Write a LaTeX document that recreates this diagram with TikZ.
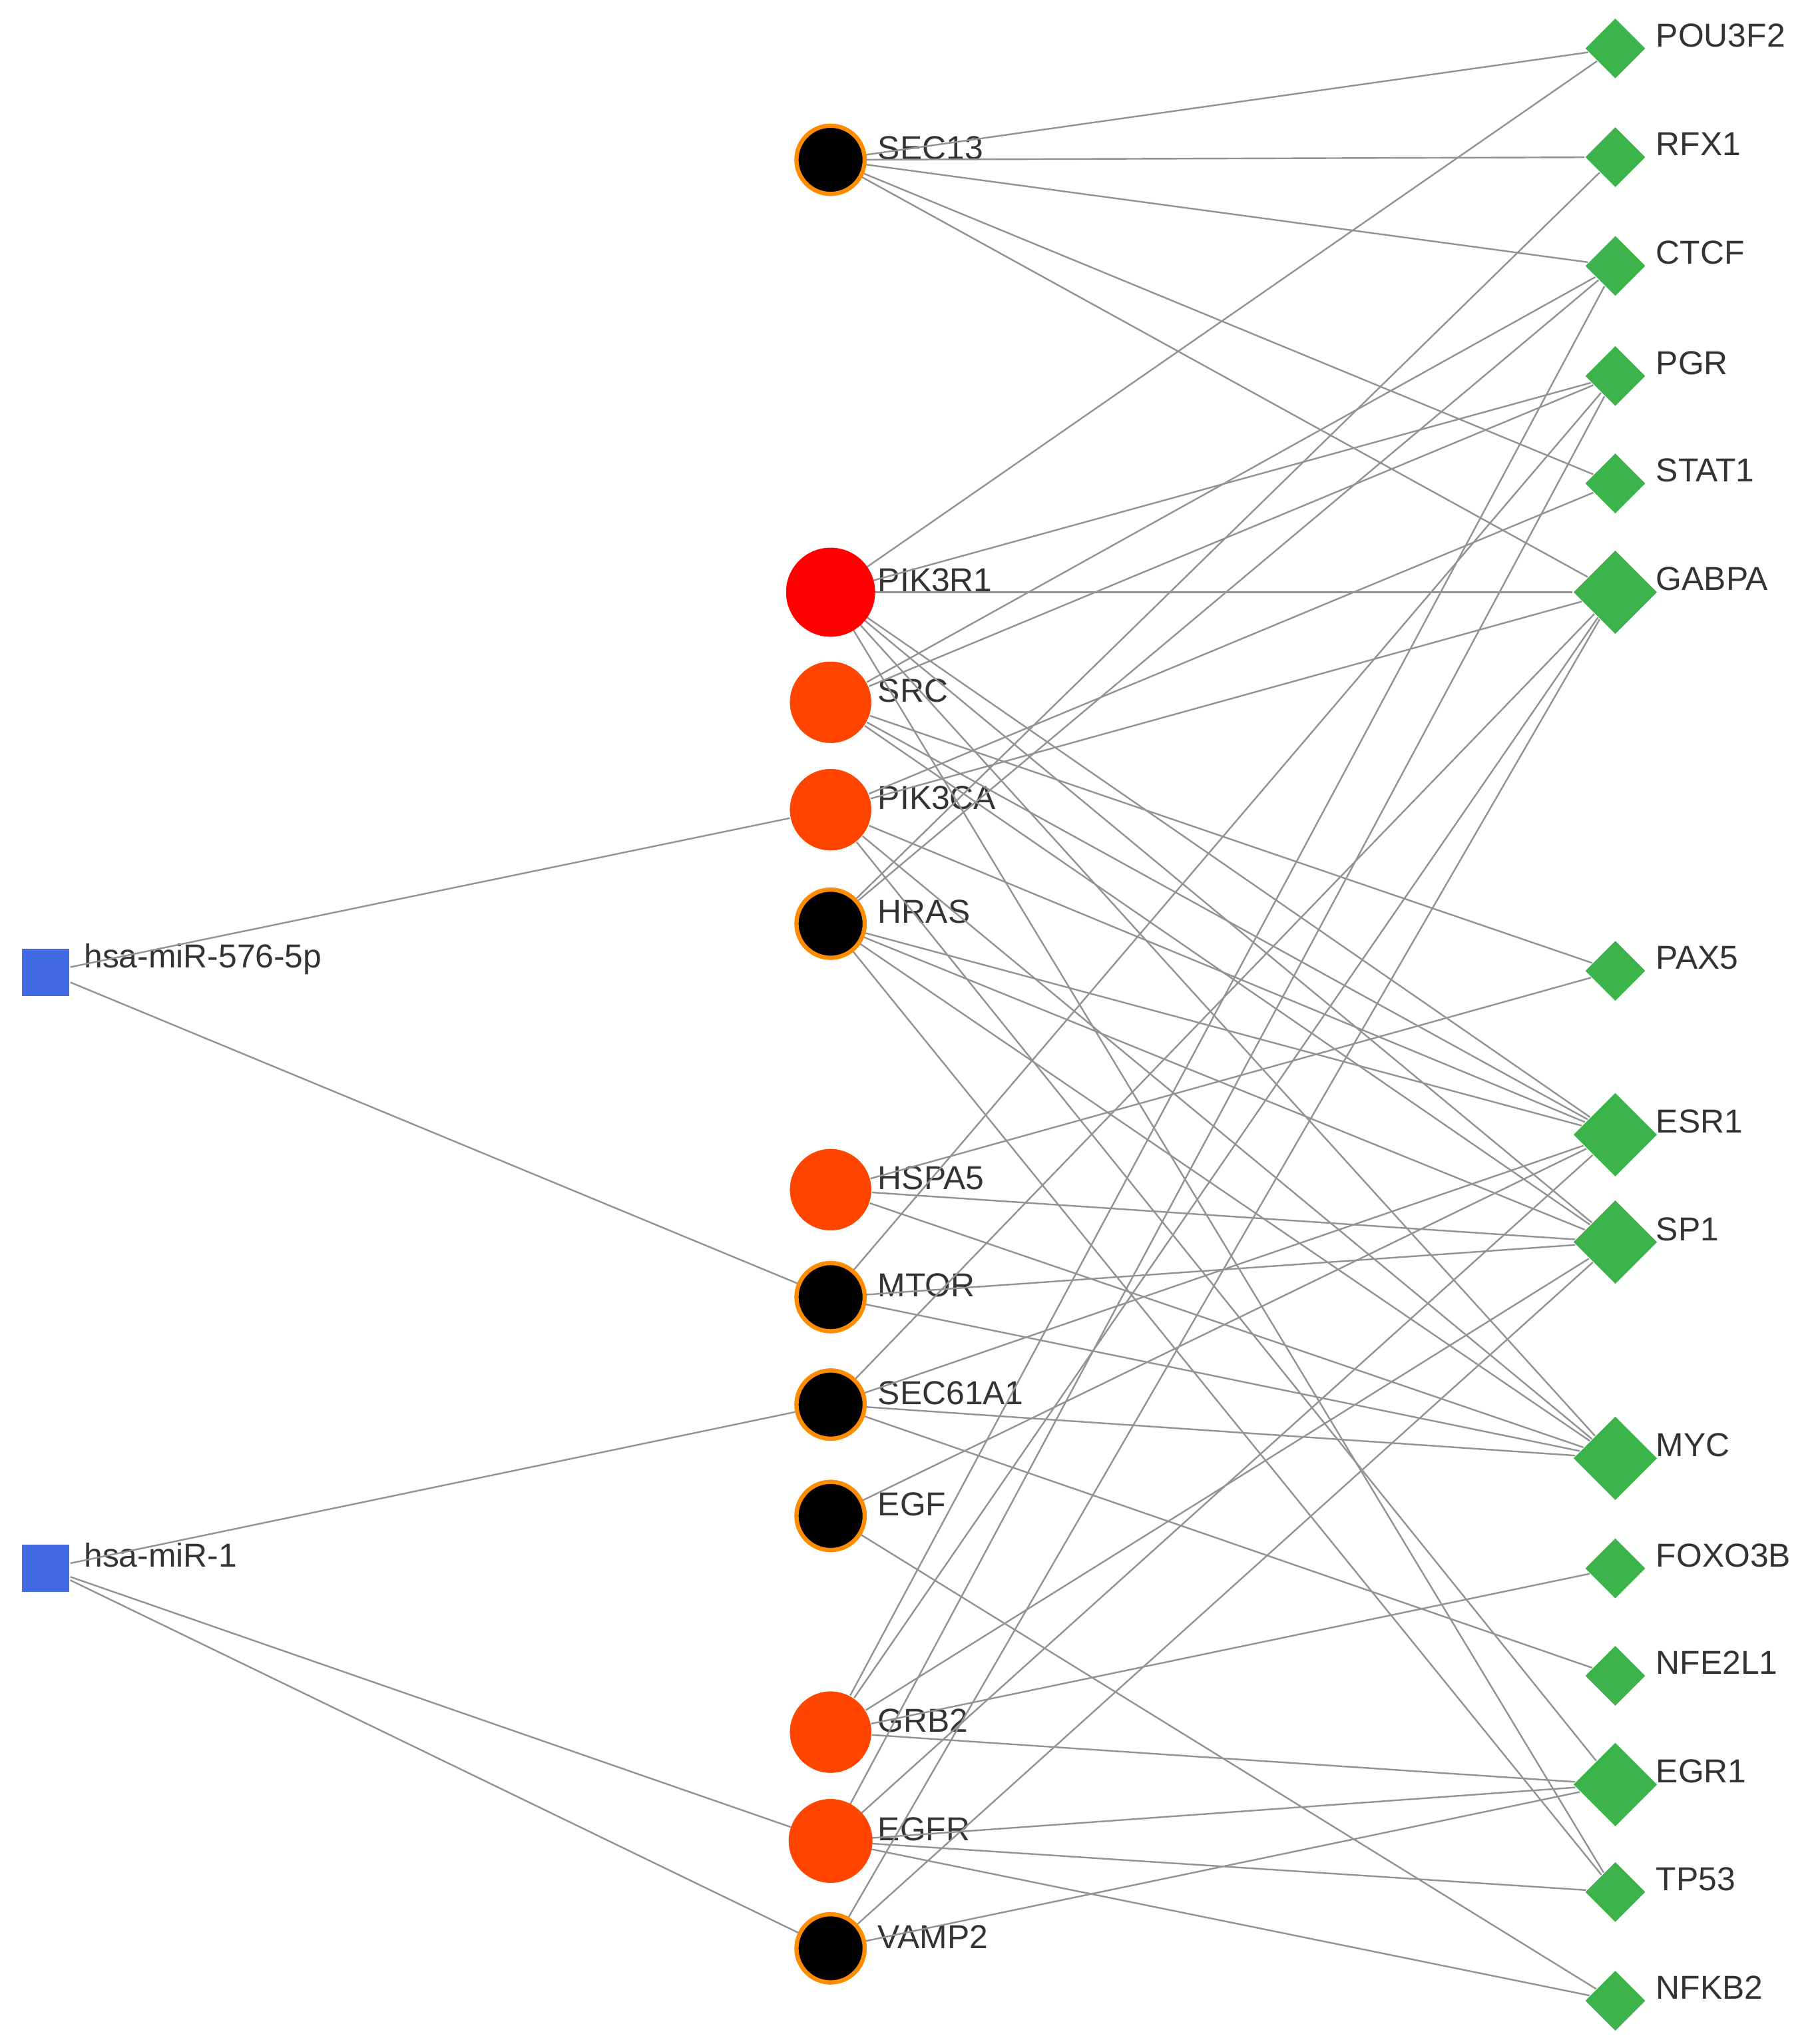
\documentclass[tikz,border=0pt]{standalone}
\usepackage{fontspec}
\setmainfont{Liberation Sans}
\usetikzlibrary{shapes.geometric}
\definecolor{mirblue}{HTML}{4169E1}
\definecolor{hubred}{HTML}{FF0000}
\definecolor{hubora}{HTML}{FF4500}
\definecolor{ringora}{HTML}{FF8C00}
\definecolor{tfgreen}{HTML}{3CB44B}
\tikzset{
	mir/.style={draw=none,rectangle,fill=mirblue,minimum size=0.36cm,inner sep=0pt},
	gene/.style={circle,draw=none,fill=hubora,inner sep=0pt,minimum size=0.62cm},
	small/.style={gene,fill=black,draw=ringora,line width=0.9pt,minimum size=0.52cm},
	tf/.style={diamond,fill=tfgreen,inner sep=0pt,minimum size=0.46cm},
	big/.style={tf,minimum size=0.64cm},
	lab/.style={anchor=west,font=\fontsize{7.2}{8}\selectfont,text=black!80,inner sep=1pt},
	link/.style={draw=gray!85,line width=0.35pt}
}

\begin{document}
\begin{tikzpicture}
\useasboundingbox (0,0) rectangle (13.86,15.6);

% miRNAs
\node[mir] (m576) at (0.35,8.18) {};
\node[mir] (m1) at (0.35,3.63) {};
\node[lab] at (0.6,8.28) {hsa-miR-576-5p};
\node[lab] at (0.6,3.73) {hsa-miR-1};

% genes
\foreach \n/\y/\s in {SEC13/14.38/small, PIK3R1/11.08/gene, SRC/10.24/gene,
	PIK3CA/9.42/gene, HRAS/8.55/small, HSPA5/6.52/gene, MTOR/5.70/small,
	SEC61A1/4.88/small, EGF/4.03/small, GRB2/2.38/gene, EGFR/1.55/gene, VAMP2/0.73/small}
{
	\node[\s] (\n) at (6.34,\y) {};
	\node[lab] at (6.66,\y+0.09) {\n};
}

% transcription factors
\foreach \n/\y/\s in {POU3F2/15.23/tf, RFX1/14.40/tf, CTCF/13.57/tf, PGR/12.73/tf,
	STAT1/11.91/tf, GABPA/11.08/big, PAX5/8.19/tf, ESR1/6.94/big, SP1/6.12/big,
	MYC/4.47/big, FOXO3B/3.63/tf, NFE2L1/2.81/tf, EGR1/1.98/big, TP53/1.16/tf, NFKB2/0.33/tf}
{
	\node[\s] (\n) at (12.33,\y) {};
	\node[lab] at (12.6,\y+0.1) {\n};
}

\foreach \a/\b in {m576/PIK3CA, m576/MTOR, m1/SEC61A1, m1/EGFR, m1/VAMP2,
	SEC13/POU3F2, SEC13/RFX1, SEC13/CTCF, SEC13/STAT1, SEC13/GABPA,
	PIK3R1/POU3F2, PIK3R1/PGR, PIK3R1/GABPA, PIK3R1/ESR1, PIK3R1/SP1, PIK3R1/MYC, PIK3R1/TP53,
	SRC/CTCF, SRC/PGR, SRC/PAX5, SRC/ESR1, SRC/SP1,
	PIK3CA/STAT1, PIK3CA/GABPA, PIK3CA/ESR1, PIK3CA/MYC, PIK3CA/EGR1,
	HRAS/RFX1, HRAS/CTCF, HRAS/ESR1, HRAS/SP1, HRAS/MYC, HRAS/TP53,
	HSPA5/PAX5, HSPA5/SP1, HSPA5/MYC,
	MTOR/PGR, MTOR/SP1, MTOR/MYC,
	SEC61A1/GABPA, SEC61A1/ESR1, SEC61A1/MYC, SEC61A1/NFE2L1,
	EGF/ESR1, EGF/NFKB2,
	GRB2/CTCF, GRB2/GABPA, GRB2/SP1, GRB2/FOXO3B, GRB2/EGR1,
	EGFR/PGR, EGFR/ESR1, EGFR/EGR1, EGFR/TP53, EGFR/NFKB2,
	VAMP2/SP1, VAMP2/EGR1, VAMP2/GABPA}
	\draw[link] (\a) -- (\b);

% redraw nodes over the links
\foreach \n in {SEC13, HRAS, MTOR, SEC61A1, EGF, VAMP2}
	\node[small] at (\n) {};
\foreach \n in {SRC, PIK3CA, HSPA5, GRB2}
	\node[gene] at (\n) {};
\node[gene,fill=hubred,minimum size=0.68cm] at (PIK3R1) {};
\node[gene,minimum size=0.64cm] at (EGFR) {};
\foreach \n in {POU3F2, RFX1, CTCF, PGR, STAT1, PAX5, FOXO3B, NFE2L1, TP53, NFKB2}
	\node[tf] at (\n) {};
\foreach \n in {GABPA, ESR1, SP1, MYC, EGR1}
	\node[big] at (\n) {};
\node[mir] at (m576) {};
\node[mir] at (m1) {};
\end{tikzpicture}
\end{document}
